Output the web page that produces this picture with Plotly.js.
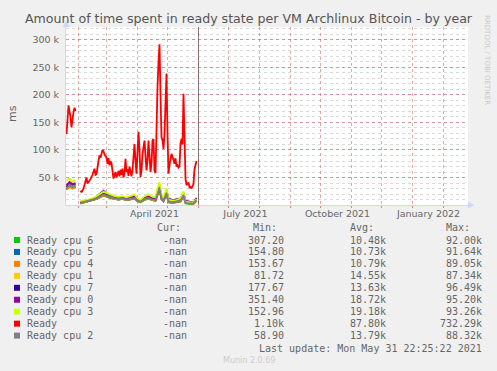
<!DOCTYPE html>
<html><head><meta charset="utf-8">
<script src="https://cdn.plot.ly/plotly-3.0.1.min.js"></script>
<style>html,body{margin:0;padding:0;background:#f0f0f0;}#chart{width:497px;height:371px;}</style>
</head><body><div id="chart"></div>
<script>
// ---- data ----
const seriesNames = ["Ready cpu 6","Ready cpu 5","Ready cpu 4","Ready cpu 1","Ready cpu 7","Ready cpu 0","Ready cpu 3","Ready","Ready cpu 2"];
const seriesColors = ["#00CC00","#0066B3","#FF8000","#FFCC00","#330099","#990099","#CCFF00","#FF0000","#808080"];
const curText = ["-nan","-nan","-nan","-nan","-nan","-nan","-nan","-nan","-nan"];
const minText = ["307.20","154.80","153.67","81.72","177.67","351.40","152.96","1.10k","58.90"];
const avgText = ["10.48k","10.73k","10.79k","14.55k","13.63k","18.72k","19.18k","87.80k","13.79k"];
const maxText = ["92.00k","91.64k","89.05k","87.34k","96.49k","95.20k","93.26k","732.29k","88.32k"];

const readyDates = ["2021-01-20","2021-01-22","2021-01-24","2021-01-25","2021-01-27","2021-01-28","2021-01-29","2021-01-31",
"2021-02-03","2021-02-04","2021-02-06","2021-02-08","2021-02-09","2021-02-10","2021-02-12","2021-02-13","2021-02-15","2021-02-17","2021-02-18","2021-02-19","2021-02-21","2021-02-22","2021-02-23","2021-02-25","2021-02-26","2021-02-27",
"2021-03-01","2021-03-02","2021-03-03","2021-03-04","2021-03-05","2021-03-06","2021-03-07","2021-03-08","2021-03-09","2021-03-10","2021-03-11","2021-03-12","2021-03-13","2021-03-14","2021-03-15","2021-03-16","2021-03-17","2021-03-18","2021-03-19","2021-03-20","2021-03-21","2021-03-22","2021-03-23","2021-03-24","2021-03-25","2021-03-26","2021-03-27","2021-03-29","2021-03-30","2021-03-31",
"2021-04-01","2021-04-02","2021-04-03","2021-04-04","2021-04-05","2021-04-06","2021-04-08","2021-04-09","2021-04-10","2021-04-11","2021-04-12","2021-04-13","2021-04-14","2021-04-15","2021-04-16","2021-04-17","2021-04-18","2021-04-19","2021-04-20","2021-04-21","2021-04-22","2021-04-23","2021-04-24","2021-04-25","2021-04-26","2021-04-27","2021-04-28","2021-04-29","2021-04-30",
"2021-05-01","2021-05-02","2021-05-03","2021-05-04","2021-05-05","2021-05-06","2021-05-07","2021-05-08","2021-05-09","2021-05-10","2021-05-11","2021-05-12","2021-05-13","2021-05-14","2021-05-15","2021-05-16","2021-05-17","2021-05-18","2021-05-19","2021-05-20","2021-05-21","2021-05-22","2021-05-23","2021-05-24","2021-05-25","2021-05-26","2021-05-27","2021-05-28","2021-05-29","2021-05-30"];
const readyValues = [129000,181000,160000,141000,169000,177000,171000,null,
26000,23000,30000,45000,50000,39000,44000,47000,55000,66000,55000,56000,80000,90000,86000,100000,98000,92000,
86000,75000,85000,72000,80000,76000,62000,48000,55000,60000,50000,58000,62000,52000,64000,55000,66000,50000,58000,84000,60000,65000,53000,70000,58000,52000,63000,111000,80000,57000,
95000,133000,100000,51000,62000,93000,117000,95000,63000,80000,117000,90000,60000,75000,117000,120000,62000,58000,150000,214000,260000,292000,200000,123000,118000,102000,130000,210000,239000,
130000,57000,72000,85000,93000,88000,81000,75000,85000,70000,72000,68000,70000,112000,120000,110000,202000,120000,48000,36000,40000,41000,32000,33000,30000,36000,38000,65000,75000,80000];

const cpuDates = ["2021-01-20","2021-01-23","2021-01-26","2021-01-29","2021-01-31",
"2021-02-03","2021-02-07","2021-02-11","2021-02-15","2021-02-19","2021-02-23","2021-02-26",
"2021-03-01","2021-03-05","2021-03-09","2021-03-13","2021-03-17","2021-03-21","2021-03-25","2021-03-29",
"2021-04-01","2021-04-04","2021-04-08","2021-04-12","2021-04-16","2021-04-19","2021-04-21","2021-04-23","2021-04-25","2021-04-27","2021-04-30",
"2021-05-02","2021-05-06","2021-05-10","2021-05-14","2021-05-17","2021-05-19","2021-05-23","2021-05-27","2021-05-30"];
const cpu6 = [28000,34000,30000,33000,null, 3000,5000,6000,8000,11000,14000,17000, 15000,12000,11000,10000,11000,9000,10000,12000, 7000,5000,9000,12000,9000,8000,18000,27000,10000,7000,19000, 5000,4000,5000,6000,16000,3000,2000,2000,7000];
const cpu5 = [29000,34000,31000,33000,null, 3000,5000,7000,8000,11000,15000,18000, 16000,13000,11000,10000,11000,9000,11000,12000, 7000,6000,10000,12000,9000,8000,19000,28000,11000,7000,20000, 5000,4000,5000,7000,17000,4000,3000,2000,8000];
const cpu4 = [28000,33000,30000,32000,null, 3000,5000,6000,8000,11000,15000,17000, 16000,13000,11000,10000,11000,9000,11000,12000, 7000,5000,10000,12000,9000,8000,18000,27000,11000,7000,20000, 5000,4000,5000,7000,16000,4000,3000,2000,8000];
const cpu1 = [34000,40000,35000,37000,null, 4000,6000,8000,10000,13000,18000,21000, 18000,15000,12000,12000,13000,11000,12000,14000, 9000,7000,12000,14000,11000,10000,21000,31000,13000,9000,23000, 7000,6000,7000,9000,19000,5000,4000,3000,10000];
const cpu7 = [33000,39000,36000,38000,null, 4000,7000,8000,10000,13000,18000,22000, 19000,15000,13000,12000,13000,11000,13000,14000, 9000,7000,12000,14000,11000,10000,22000,32000,13000,9000,24000, 10000,8000,9000,10000,20000,7000,5000,4000,11000];
const cpu0 = [36000,42000,38000,40000,null, 5000,8000,9000,11000,15000,22000,26000, 21000,17000,14000,13000,14000,12000,14000,16000, 10000,8000,13000,16000,12000,12000,25000,35000,15000,10000,26000, 12000,9000,10000,12000,22000,8000,6000,4000,13000];
const cpu3 = [45000,48000,42000,46000,null, 7000,9000,11000,12000,16000,21000,24000, 22000,19000,16000,15000,16000,14000,17000,19000, 12000,9000,16000,19000,15000,14000,30000,42000,18000,12000,31000, 10000,8000,9000,12000,25000,6000,5000,4000,11000];
const cpu2 = [30000,37000,34000,36000,null, 4000,6000,7000,9000,12000,16000,19000, 17000,14000,12000,11000,12000,10000,12000,13000, 8000,6000,11000,13000,10000,9000,20000,30000,12000,8000,22000, 6000,5000,6000,8000,18000,4000,3000,3000,9000];

const yTickVals = [50000,100000,150000,200000,250000,300000];
const yTickText = ["50 k","100 k","150 k","200 k","250 k","300 k"];
const xTickVals = ["2021-04-18","2021-07-18","2021-10-18","2022-01-17"];
const xTickText = ["April 2021","July 2021","October 2021","January 2022"];
const lastUpdateDate = "2021-06-01";

// ---- layout helpers (pixel -> paper) ----
const W = 497, H = 371, L = 66, R = 468, T = 27, B = 205;
const PX = x => (x - L) / (R - L);
const PY = y => (B - y) / (B - T);
const FONT = "DejaVu Sans, sans-serif";
const MONO = "DejaVu Sans Mono, monospace";
const TXT = "#666666";

const seriesY = [cpu6, cpu5, cpu4, cpu1, cpu7, cpu0, cpu3, readyValues, cpu2];
const traces = seriesY.map((vals, i) => ({
  type: "scatter", mode: "lines",
  x: seriesNames[i] === "Ready" ? readyDates : cpuDates,
  y: vals, name: seriesNames[i],
  line: {color: seriesColors[i], width: 1.8},
  connectgaps: false, hoverinfo: "skip", showlegend: false
}));

const annotations = [];
const shapes = [];
// legend header
const headerY = 227;
[["Cur:",182],["Min:",278],["Avg:",374.5],["Max:",470.5]].forEach(([t,x]) => {
  annotations.push({xref:"paper", yref:"paper", x:PX(x), y:PY(headerY), xanchor:"right", yanchor:"middle",
    text:t, showarrow:false, font:{family:MONO, size:10, color:TXT}, borderpad:0});
});
const rowY0 = 240, rowStep = 11.95;
seriesNames.forEach((n, i) => {
  const y = rowY0 + i * rowStep;
  shapes.push({type:"rect", xref:"paper", yref:"paper", x0:PX(14), x1:PX(20), y0:PY(y+3), y1:PY(y-3),
    fillcolor: seriesColors[i], line:{width:0}});
  annotations.push({xref:"paper", yref:"paper", x:PX(26), y:PY(y), xanchor:"left", yanchor:"middle",
    text:n, showarrow:false, font:{family:MONO, size:10, color:TXT}, borderpad:0});
  [[curText[i],188],[minText[i],284.5],[avgText[i],387],[maxText[i],483]].forEach(([t,x]) => {
    annotations.push({xref:"paper", yref:"paper", x:PX(x), y:PY(y), xanchor:"right", yanchor:"middle",
      text:t, showarrow:false, font:{family:MONO, size:10, color:TXT}, borderpad:0});
  });
});
annotations.push({xref:"paper", yref:"paper", x:PX(483), y:PY(348), xanchor:"right", yanchor:"middle",
  text:"Last update: Mon May 31 22:25:22 2021", showarrow:false, font:{family:MONO, size:10, color:TXT}, borderpad:0});
annotations.push({xref:"paper", yref:"paper", x:PX(248.5), y:PY(360), xanchor:"center", yanchor:"middle",
  text:"Munin 2.0.69", showarrow:false, font:{family:FONT, size:8, color:"#cccccc"}, borderpad:0});
annotations.push({xref:"paper", yref:"paper", x:PX(487), y:PY(60), xanchor:"center", yanchor:"middle",
  text:"RRDTOOL / TOBI OETIKER", textangle:90, showarrow:false, font:{family:FONT, size:7, color:"#c8c8c8"}, borderpad:0});
annotations.push({xref:"paper", yref:"paper", x:PX(12), y:PY(114), xanchor:"center", yanchor:"middle",
  text:"ms", textangle:-90, showarrow:false, font:{family:FONT, size:11, color:TXT}, borderpad:0});

// axis arrows
const AX = "#CFD6F8";
shapes.push({type:"path", xref:"paper", yref:"paper",
  path:`M ${PX(468)} ${PY(201.5)} L ${PX(474)} ${PY(205)} L ${PX(468)} ${PY(208.5)} Z`, fillcolor:AX, line:{width:0}});
shapes.push({type:"path", xref:"paper", yref:"paper",
  path:`M ${PX(62.5)} ${PY(27)} L ${PX(66)} ${PY(21)} L ${PX(69.5)} ${PY(27)} Z`, fillcolor:AX, line:{width:0}});
// vertical line at the end of the data
shapes.push({type:"line", xref:"x", yref:"paper", x0:lastUpdateDate, x1:lastUpdateDate, y0:0, y1:1,
  line:{color:"rgba(110,80,80,0.75)", width:1}});

const layout = {
  width: W, height: H,
  paper_bgcolor: "#f0f0f0", plot_bgcolor: "#ffffff",
  margin: {l: L, r: W - R, t: T, b: H - B, pad: 0},
  title: {text: "Amount of time spent in ready state per VM Archlinux Bitcoin - by year",
    font: {family: FONT, size: 12.6, color: "#555555"}, x: 0.5, xref: "container", xanchor: "center",
    y: 1 - 19/H, yref: "container", yanchor: "middle"},
  showlegend: false,
  xaxis: {type: "date", range: ["2021-01-19 12:00", "2022-02-25 12:00"], fixedrange: true,
    tickmode: "array", tickvals: xTickVals, ticktext: xTickText, ticks: "", showgrid: false,
    tickfont: {family: FONT, size: 9.5, color: TXT},
    showline: true, linecolor: AX, linewidth: 1, zeroline: false,
    minor: {tickmode: "linear", tick0: "2021-01-01", dtick: "M1", showgrid: true,
      gridcolor: "rgba(200,60,60,0.45)", griddash: "dot", gridwidth: 1, ticks: "outside", ticklen: 2, tickcolor: "rgba(200,60,60,0.6)"}},
  yaxis: {range: [0, 323600], fixedrange: true, tickmode: "array", tickvals: yTickVals, ticktext: yTickText,
    ticks: "", showgrid: true, gridcolor: "rgba(200,60,60,0.45)", griddash: "dot", gridwidth: 1,
    tickfont: {family: FONT, size: 9.5, color: TXT}, ticklabelstandoff: 4,
    showline: true, linecolor: AX, linewidth: 1, zeroline: false,
    minor: {tickmode: "linear", tick0: 0, dtick: 10000, showgrid: true, gridcolor: "rgba(140,140,140,0.32)", griddash: "dot", gridwidth: 1}},
  annotations: annotations,
  shapes: shapes
};
Plotly.newPlot("chart", traces, layout, {staticPlot: true, displayModeBar: false});
</script></body></html>
